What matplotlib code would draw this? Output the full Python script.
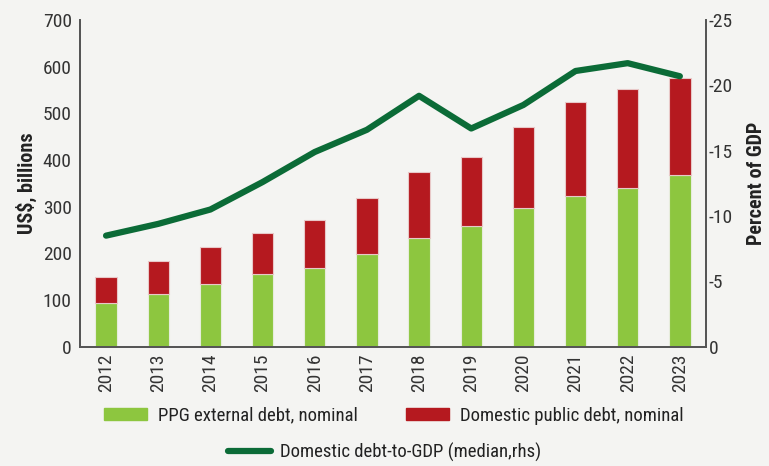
import numpy as np
import matplotlib.pyplot as plt
from matplotlib import font_manager
from matplotlib.patches import Patch
from matplotlib.lines import Line2D

# try to find a condensed face, the original uses a narrow typeface
fonts = font_manager.fontManager.ttflist
narrow = None
for f in fonts:
    if f.name in ('Liberation Sans Narrow', 'Roboto Condensed', 'Open Sans Condensed'):
        narrow = f.name
        break
if narrow is None:
    for f in fonts:
        if f.name in ('DejaVu Sans', 'Roboto', 'Open Sans', 'Noto Sans') and \
                str(f.stretch) in ('condensed', 'semi-condensed', '75', '87.5', 'extra-condensed'):
            narrow = f.name
            plt.rcParams['font.stretch'] = 'condensed'
            break
plt.rcParams['font.family'] = [narrow or 'DejaVu Sans', 'DejaVu Sans']
plt.rcParams['axes.unicode_minus'] = False

# data
years = ['2012', '2013', '2014', '2015', '2016', '2017',
         '2018', '2019', '2020', '2021', '2022', '2023']
ppg_external = [93, 113, 135, 156, 169, 198, 232, 259, 297, 324, 340, 368]
total_debt = [150, 184, 213, 243, 272, 319, 375, 406, 471, 524, 553, 576]
domestic_public = [t - e for t, e in zip(total_debt, ppg_external)]
debt_to_gdp = [-8.5, -9.4, -10.5, -12.6, -14.9, -16.6,
               -19.2, -16.7, -18.5, -21.1, -21.7, -20.7]

bg = '#f4f4f2'
green = '#8dc63f'
red = '#b5191f'
dark_green = '#0b6b37'
spine_col = '#555555'
txt_col = '#333333'

fig = plt.figure(figsize=(7.69, 4.66), dpi=100, facecolor=bg)
ax = fig.add_axes([0.104, 0.256, 0.814, 0.701], facecolor=bg)
ax2 = ax.twinx()

x = np.arange(len(years))
ax.bar(x, ppg_external, width=0.41, color=green, edgecolor='#e6ecdc', linewidth=0.8)
ax.bar(x, domestic_public, bottom=ppg_external, width=0.41, color=red,
       edgecolor='#e8c8c8', linewidth=0.8)
ax2.plot(x, debt_to_gdp, color=dark_green, linewidth=4.5, solid_capstyle='round')

ax.set_xlim(-0.5, 11.5)
ax.set_ylim(0, 700)
ax.set_yticks(range(0, 701, 100))
ax.set_xticks(x)
ax.set_xticklabels(years, rotation=90)
ax2.set_ylim(0, -25)
ax2.set_yticks([0, -5, -10, -15, -20, -25])

fs = 14 if narrow else 11.5
for a in (ax, ax2):
    a.spines['top'].set_visible(False)
    for s in ('left', 'right', 'bottom'):
        a.spines[s].set_color(spine_col)
        a.spines[s].set_linewidth(1.3)
    a.tick_params(length=0, labelsize=fs, labelcolor=txt_col, pad=5)
ax.tick_params(axis='y', pad=6)
ax2.tick_params(axis='y', pad=2)

ax.set_ylabel('US$, billions', fontsize=fs + 0.5, fontweight='bold', color='#222222', labelpad=4)
ax2.set_ylabel('Percent of GDP', fontsize=fs + 0.5, fontweight='bold', color='#222222', labelpad=10)

lfs = fs - 0.5
bar_handles = [Patch(color=green, label='PPG external debt, nominal'),
               Patch(color=red, label='Domestic public debt, nominal')]
leg1 = fig.legend(handles=bar_handles, loc='center', bbox_to_anchor=(0.512, 0.108),
                  ncol=2, frameon=False, fontsize=lfs, handlelength=2.3, handleheight=0.55,
                  columnspacing=2.6, handletextpad=0.55)
line_handle = [Line2D([0], [0], color=dark_green, linewidth=4.5, solid_capstyle='round',
                      label='Domestic debt-to-GDP (median,rhs)')]
leg2 = fig.legend(handles=line_handle, loc='center', bbox_to_anchor=(0.5, 0.03),
                  frameon=False, fontsize=lfs, handlelength=2.3, handletextpad=0.5)
for leg in (leg1, leg2):
    for t in leg.get_texts():
        t.set_color('#222222')

fig.savefig('out.png', dpi=100, facecolor=bg)
